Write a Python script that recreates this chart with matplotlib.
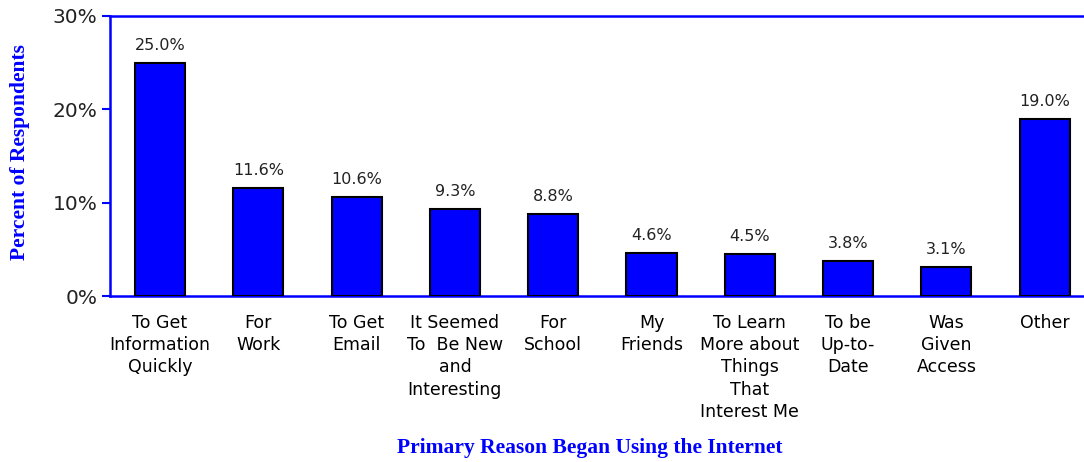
import matplotlib
matplotlib.use("Agg")
import matplotlib.pyplot as plt

categories = ["To Get\nInformation\nQuickly", "For\nWork", "To Get\nEmail",
              "It Seemed\nTo  Be New\nand\nInteresting", "For\nSchool", "My\nFriends",
              "To Learn\nMore about\nThings\nThat\nInterest Me", "To be\nUp-to-\nDate",
              "Was\nGiven\nAccess", "Other"]
values = [25.0, 11.6, 10.6, 9.3, 8.8, 4.6, 4.5, 3.8, 3.1, 19.0]
yticks = [0, 10, 20, 30]
ytick_labels = ["0%", "10%", "20%", "30%"]

W, H = 1084, 462
fig = plt.figure(figsize=(W / 100, H / 100), dpi=100)
ax = fig.add_axes([110 / W, (H - 296) / H, (W - 110) / W, 280 / H])

x = list(range(len(values)))
bars = ax.bar(x, values, width=0.51, color="#0000FF", edgecolor="black", linewidth=1.5, zorder=3)
ax.bar_label(bars, labels=[f"{v:.1f}%" for v in values], padding=7, fontsize=11.5,
             color="#222222", family="DejaVu Sans")

ax.set_xlim(-0.509, 9.40)
ax.set_ylim(0, 30)
ax.set_yticks(yticks)
ax.set_yticklabels(ytick_labels, fontsize=14.5, color="#222222")
ax.set_xticks(x)
ax.set_xticklabels(categories, fontsize=12.5, color="black", linespacing=1.3, va="top")
ax.tick_params(axis="x", length=0, pad=13)
ax.tick_params(axis="y", length=6, width=1.5, color="#0000FF", direction="out", pad=3)

for s in ["left", "top", "bottom"]:
    ax.spines[s].set_color("#0000FF")
    ax.spines[s].set_linewidth(1.8)
ax.spines["right"].set_visible(False)

fig.text(20 / W, 1 - 152 / H, "Percent of Respondents", rotation=90, ha="center", va="center",
         fontsize=15.5, fontweight="bold", color="#0000FF", family="Liberation Serif")
fig.text(590 / W, 1 - 448 / H, "Primary Reason Began Using the Internet", ha="center", va="center",
         fontsize=15.5, fontweight="bold", color="#0000FF", family="Liberation Serif")

fig.savefig("out.png", dpi=100)
